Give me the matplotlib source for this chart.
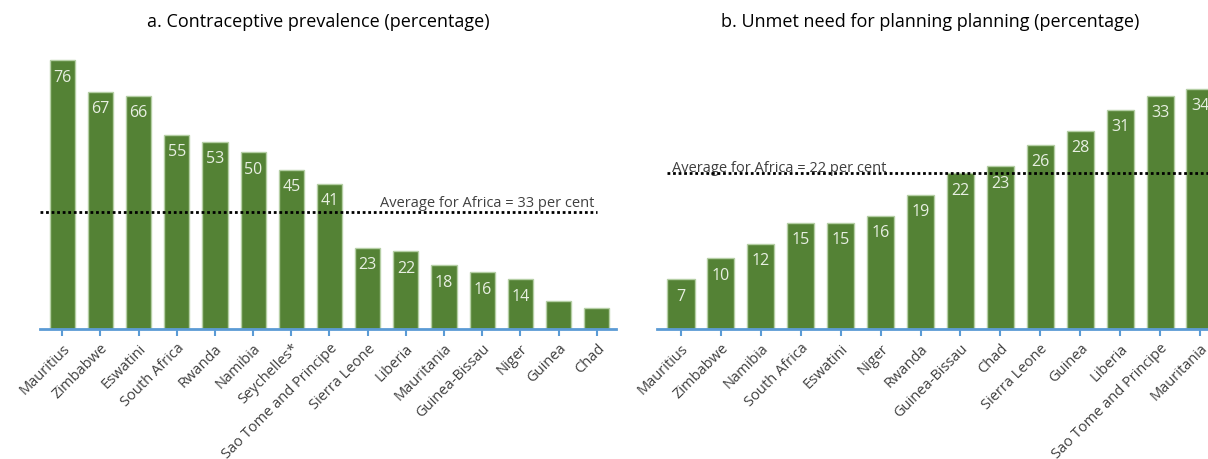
import matplotlib.pyplot as plt
import numpy as np

plt.rcParams["font.family"] = ["Open Sans", "DejaVu Sans"]

# a. contraceptive prevalence
cp_countries = ["Mauritius", "Zimbabwe", "Eswatini", "South Africa", "Rwanda", "Namibia",
                "Seychelles*", "Sao Tome and Principe", "Sierra Leone", "Liberia",
                "Mauritania", "Guinea-Bissau", "Niger", "Guinea", "Chad"]
cp_values = [76, 67, 66, 55, 53, 50, 45, 41, 23, 22, 18, 16, 14, 8, 6]
cp_labels = ["76", "67", "66", "55", "53", "50", "45", "41", "23", "22", "18", "16", "14", "", ""]
cp_average = 33

# b. unmet need
un_countries = ["Mauritius", "Zimbabwe", "Namibia", "South Africa", "Eswatini", "Niger",
                "Rwanda", "Guinea-Bissau", "Chad", "Sierra Leone", "Guinea", "Liberia",
                "Sao Tome and Principe", "Mauritania"]
un_values = [7, 10, 12, 15, 15, 16, 19, 22, 23, 26, 28, 31, 33, 34]
un_average = 22

bar_color = "#548235"
edge_color = "#b5cfa5"
axis_color = "#5b9bd5"
label_color = "#e8efe2"
text_color = "#404040"

fig = plt.figure(figsize=(12.08, 4.6), dpi=100)
ax1 = fig.add_axes([0.0331, 0.2826, 0.4768, 0.615])
ax2 = fig.add_axes([0.5439, 0.2826, 0.4561, 0.615])


def style(ax, names):
    x = np.arange(len(names))
    ax.set_xticks(x)
    ax.set_xticklabels(names, rotation=45, ha="right", rotation_mode="anchor",
                       fontsize=10.5, color=text_color)
    for s in ["top", "right", "left"]:
        ax.spines[s].set_visible(False)
    ax.spines["bottom"].set_color(axis_color)
    ax.spines["bottom"].set_linewidth(2)
    ax.tick_params(axis="x", color=axis_color, length=5, width=1.5, pad=3)
    ax.set_yticks([])


# left panel
x1 = np.arange(len(cp_countries))
ax1.bar(x1, cp_values, width=0.66, color=bar_color, edgecolor=edge_color, linewidth=1)
for xi, v, lab in zip(x1, cp_values, cp_labels):
    ax1.annotate(lab, (xi, v), xytext=(0, -6), textcoords="offset points",
                 ha="center", va="top", fontsize=11.5, color=label_color)
ax1.set_xlim(-0.58, 14.5)
ax1.set_ylim(0, 80)
ax1.plot([-0.58, 14.0], [cp_average, cp_average], color="black", linestyle=(0, (1, 1)),
         linewidth=2, zorder=5)
ax1.annotate("Average for Africa = %d per cent" % cp_average, (13.93, cp_average),
             xytext=(0, 2), textcoords="offset points", ha="right", va="bottom",
             fontsize=10.5, color=text_color)
style(ax1, cp_countries)

# right panel
x2 = np.arange(len(un_countries))
ax2.bar(x2, un_values, width=0.68, color=bar_color, edgecolor=edge_color, linewidth=1)
for xi, v in zip(x2, un_values):
    ax2.annotate(str(v), (xi, v), xytext=(0, -6), textcoords="offset points",
                 ha="center", va="top", fontsize=11.5, color=label_color)
ax2.set_xlim(-0.6, 13.2)
ax2.set_ylim(0, 40)
ax2.plot([-0.35, 13.2], [un_average, un_average], color="black", linestyle=(0, (1, 1)),
         linewidth=2, zorder=5)
ax2.annotate("Average for Africa = %d per cent" % un_average, (-0.22, un_average),
             xytext=(0, -1), textcoords="offset points", ha="left", va="bottom",
             fontsize=10.5, color=text_color)
style(ax2, un_countries)

fig.text(0.2635, 0.952, "a. Contraceptive prevalence (percentage)", ha="center", va="center",
         fontsize=13, color="black")
fig.text(0.7700, 0.952, "b. Unmet need for planning planning (percentage)", ha="center",
         va="center", fontsize=13, color="black")

fig.savefig("out.png", dpi=100)
